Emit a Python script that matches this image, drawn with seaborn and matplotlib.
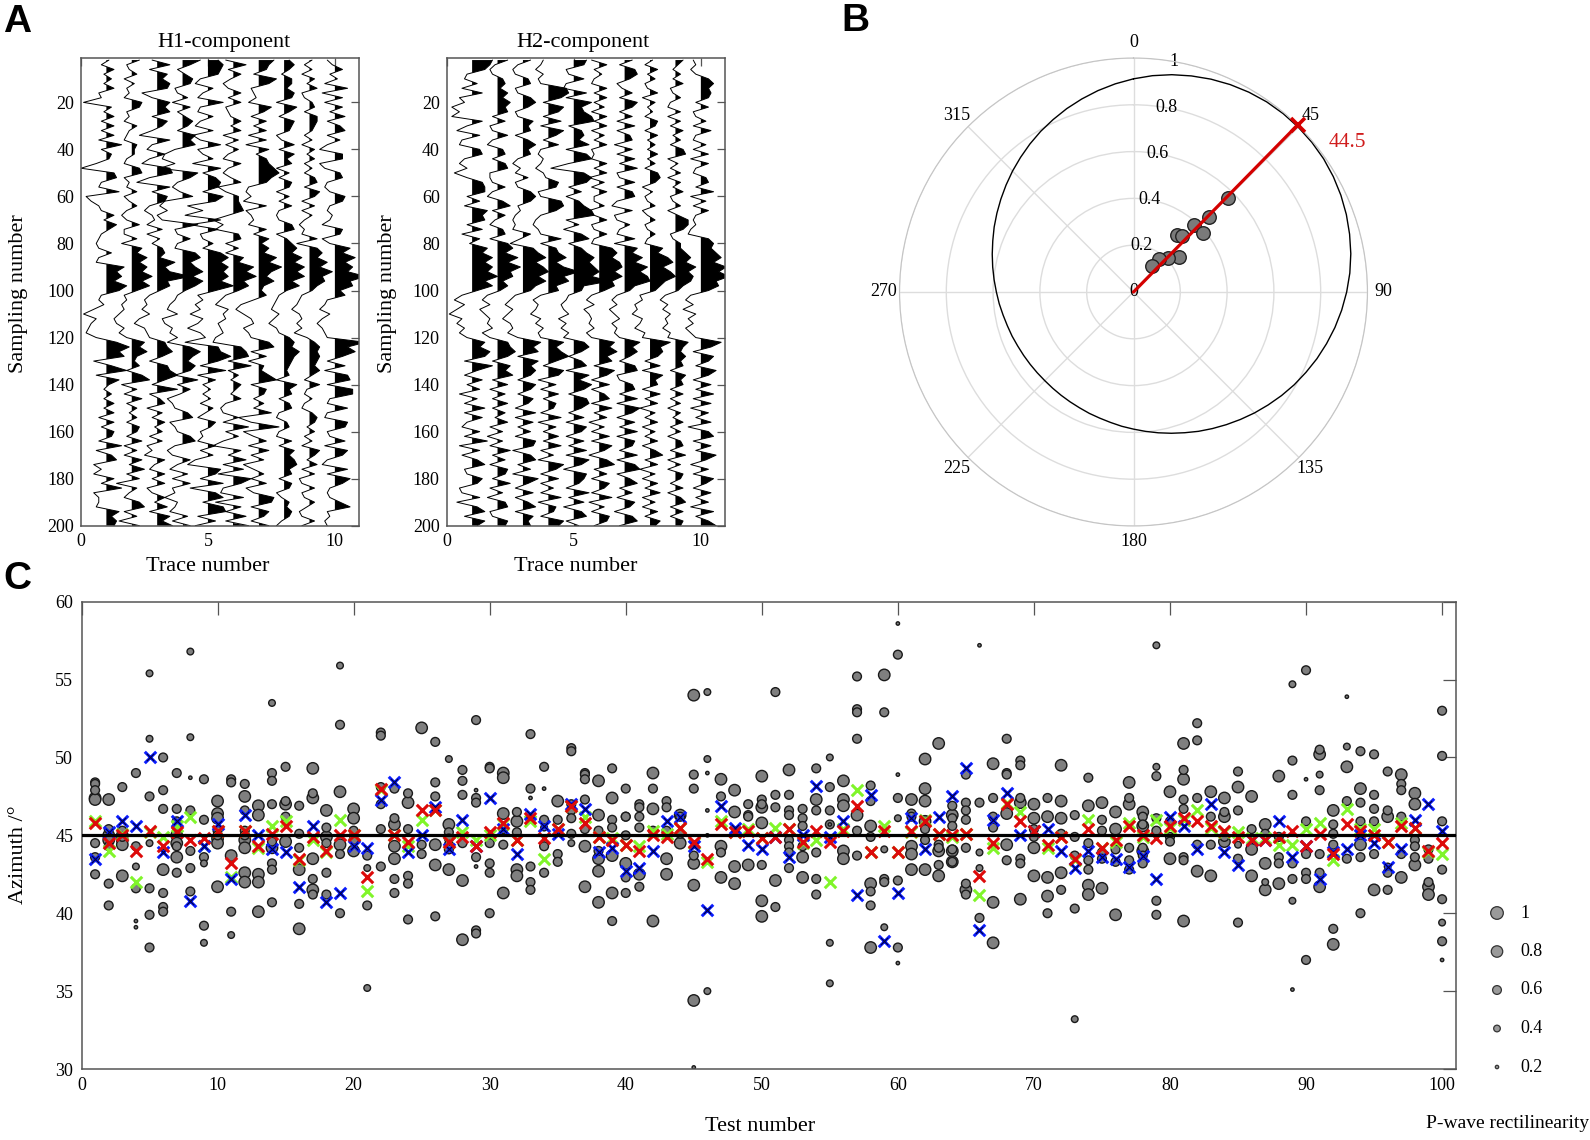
import numpy as np
import pandas as pd
import matplotlib
matplotlib.use("Agg")
import matplotlib.pyplot as plt
import seaborn as sns

# traces: amplitude in tenths of a trace spacing, read every 2nd sample (2..200)
samples = list(range(2, 201, 2))

h1_1 = [1,-2,3,-1,2,-1,3,-3,-2,-9, 2,-1,3,-2,3,-2,3,-3,6,-2,
        2,1,-4,-10,3,4,-2,-3,5,-8, -6,-3,-2,3,-1,4,1,-2,-3,-4,
        -3,2,-3,-4,7,4,6,3,8,5, -2,-3,-1,-5,-9,-4,-6,-7,-8,-4,
        4,9,5,7,-5,2,8,-4,5,1, -1,2,-1,3,-1,3,-3,3,-2,3,
        2,-3,6,-4,2,4,-5,-2,-5,3, -2,6,-5,-3,-3,-4,5,2,4,3]
h1_2 = [3,-2,-1,2,-3,1,-2,-1,-3,4, 3,-2,-1,-3,2,-1,-2,-3,2,1,
        1,-2,-3,3,4,-3,-1,-2,2,-3, -1,2,-2,-4,-2,3,-3,-3,2,-4,
        4,2,6,3,6,4,8,4,7,2, -3,-2,-4,-3,-5,-7,-6,-3,-5,-2,
        5,3,6,2,1,3,-2,4,7,-4, 2,-3,4,-2,2,-1,2,-2,3,2,
        -2,4,-3,2,-3,4,-1,5,-2,3, -6,2,-1,-3,3,5,-3,2,-5,3]
h1_3 = [-2,5,-3,4,2,5,4,-6,-2,5, 3,5,-2,4,2,-2,-7,5,-2,-4,
        3,-3,-6,5,6,-3,-8,5,-2,4, 3,-3,-5,-2,-1,-4,2,-4,1,-2,
        2,3,1,7,3,5,13,4,5,1, -3,-5,-4,-6,-3,-7,-9,-5,-4,-3,
        3,4,6,2,-3,4,5,8,3,-2, 8,-3,1,3,-4,2,-2,3,-1,2,
        -3,2,-4,-2,-5,3,-1,-3,3,-2, 3,-4,-2,3,-1,4,-3,5,2,6]
h1_4 = [7,3,-2,1,4,3,-3,-2,2,-4, 3,-2,1,4,2,-2,5,3,5,-3,
        -7,-8,-3,-9,6,3,-2,-4,-1,4, -7,-9,-6,-10,-8,6,-3,-2,3,-2,
        -3,5,7,3,5,8,4,8,5,1, -2,-3,-5,-6,-2,-8,-7,-4,-5,-2,
        -6,3,7,4,2,5,3,-3,6,-2, 3,-1,-6,-4,-3,2,4,-5,-3,-2,
        3,5,-3,-6,-4,3,-2,-5,2,-4, 3,-4,-3,-7,-2,-3,-5,2,-4,3]
h1_5 = [4,6,5,4,-3,-5,2,-2,-4,6, -3,-4,2,-3,-5,2,-6,-3,5,-4,
        -2,2,-6,5,-2,3,5,4,-2,6, 3,-8,-2,-9,5,-7,4,-3,-2,2,
        -2,5,8,5,8,6,8,5,10,3, -4,-2,-5,-3,-7,-2,-4,-8,-3,-1,
        -9,4,5,9,4,-3,7,-4,3,-2, 1,-2,1,-3,2,-1,-4,3,1,-3,
        -2,-4,3,-3,2,-5,-8,5,3,-3, 6,-7,3,6,-2,6,7,-4,3,-5]
h1_6 = [-3,5,-2,3,-1,-4,-2,3,-2,3, -3,-2,-1,3,-1,3,-4,2,-3,2,
        -2,-4,3,-2,-4,-1,3,-6,-3,2, 2,3,4,-2,-8,-4,-7,2,3,-3,
        2,-3,4,2,8,5,9,4,6,2, -3,-5,-7,-2,-4,-3,-6,-5,-4,-7,
        -8,3,5,6,-2,7,-2,2,-1,3, 1,-1,3,-3,-5,-4,2,-4,6,-3,
        2,-4,-8,3,-2,5,-4,4,-6,7, 3,-4,-5,4,-7,3,-3,5,-3,6]
h1_7 = [6,4,3,-2,7,4,-3,-2,-1,-4, 5,2,-3,3,-2,3,-4,3,-5,4,
        -1,3,4,6,8,5,3,-4,-5,-3, -6,3,-5,-3,-2,-4,3,-2,4,1,
        4,2,7,4,9,5,3,6,2,1, 3,-2,-7,-9,-6,-3,-2,-6,-4,-3,
        4,6,-3,3,-4,2,1,4,7,-3, 3,2,-2,2,-2,5,-8,-3,8,-6,
        -2,3,-4,4,-3,2,-6,-2,2,-3, 3,-5,-2,6,5,-3,4,2,-3,4]
h1_8 = [2,4,2,-1,3,3,1,4,3,-3, 5,2,-2,4,3,2,-3,-1,4,-2,
        4,1,3,-3,2,-2,3,2,-3,2, -2,3,-2,-3,-2,3,4,-3,1,3,
        5,3,7,4,8,5,8,3,6,1, -2,-3,-4,-5,-2,-4,-6,-3,-2,2,
        4,3,6,4,3,2,1,2,-3,5, 2,3,-2,2,3,-2,-3,1,2,-2,
        -3,3,-2,4,2,4,5,2,3,-2, 3,2,-3,-1,2,1,3,2,-1,-3]
h1_9 = [1,-2,1,-3,2,-1,3,-3,-2,1, 2,-2,3,3,2,1,-2,1,-3,2,
        -1,2,-2,1,-2,2,3,-2,4,2, -3,2,-3,1,-2,-4,-2,-3,3,-5,
        3,5,3,7,4,9,5,6,3,1, -3,-4,-5,-7,-4,-3,-5,-3,-6,-1,
        2,4,3,4,3,2,4,1,-2,4, -1,-2,1,-2,-3,1,3,2,-1,2,
        -2,1,-3,4,2,-1,3,-3,2,-4, -3,2,-3,-2,2,-1,-4,-3,2,-3]
h1_10 = [-3,-1,3,-2,1,-4,5,-5,3,-4, 3,-2,4,-3,2,4,-3,2,-3,-6,
         3,3,-6,-4,2,3,-3,-4,-2,4, 3,-2,-3,-1,-2,-5,3,2,-5,-2,
         6,3,8,4,7,5,12,6,7,2, 4,-3,-4,-6,-2,-5,-7,-5,-4,-3,
         12,5,8,3,-3,4,-4,5,6,-3, 7,7,-2,-3,5,-3,-4,5,4,-3,
         -2,4,-4,5,3,-3,-5,5,-3,6, 3,-2,-3,-2,2,6,-3,-2,-4,-3]

h2_1 = [8,7,5,-2,-3,2,-4,4,-5,-3, -8,-5,-8,4,-2,-6,3,-4,-5,3,
        4,-3,-5,-2,-7,-2,4,5,5,-2, 3,-3,6,4,5,-2,4,-4,3,-1,
        6,4,8,5,8,6,10,5,8,2, -4,-7,-3,-6,-9,-4,-6,-3,-5,-2,
        5,3,7,5,-3,8,2,-3,4,-2, 3,-5,2,-3,5,-3,4,-2,-4,3,
        -3,6,-5,3,-4,2,5,-3,-2,4, 2,-5,-4,3,-6,2,5,-3,5,2]
h2_2 = [4,-1,-3,-2,2,3,1,4,2,5, 3,4,-2,3,-3,-2,4,-2,-4,2,
        3,-2,3,4,-3,-3,-2,3,-2,-4, 2,5,-2,3,-1,-3,2,3,-3,4,
        6,3,8,4,9,5,6,2,4,1, -4,-6,-3,-7,-5,-3,-4,-2,-6,-3,
        4,5,7,4,-2,5,3,6,-2,4, -3,3,-2,4,-2,3,-1,4,-3,2,
        -4,2,-3,5,-2,3,-3,4,3,-2, 5,-3,2,-4,3,4,-3,-2,4,3]
h2_3 = [3,-2,-4,-3,2,3,-3,-2,3,5, 2,-3,-2,4,2,3,-3,2,5,2,
        3,-2,-4,-1,-3,2,-3,-2,3,5, 3,-2,-1,-3,-4,-3,-4,3,-1,-5,
        4,6,9,5,8,10,6,9,5,3, -3,-5,-7,-4,-6,-8,-5,-4,-6,-2,
        7,4,6,-2,6,3,5,3,-2,5, 3,-2,4,2,-3,5,-3,4,-2,3,
        -3,5,4,-4,3,5,-2,3,-4,6, 2,-3,4,-3,2,5,-3,4,2,3]
h2_4 = [-2,-3,-5,-2,-4,-3,7,8,5,-2, 6,4,-2,5,-3,6,3,-2,4,-3,
        -4,-2,-3,-5,-2,-1,4,3,-4,-3, 5,6,3,-3,-5,-6,-4,-3,5,-3,
        3,4,7,3,6,12,6,8,3,4, -3,-6,-4,-5,-7,-3,-5,-2,-4,-3,
        6,3,5,8,3,-2,6,4,-4,3, -3,4,-2,3,2,-3,5,-4,3,-2,
        4,-2,5,-3,2,-4,6,3,-3,4, -3,2,-3,5,-4,3,2,-3,6,4]
h2_5 = [5,4,-3,-2,4,-3,-4,5,-3,7, 3,4,7,8,-2,3,4,2,6,-3,
        5,7,-2,-9,4,7,5,-2,3,-3, 2,4,7,8,-3,2,-4,3,6,-2,
        3,5,8,6,8,10,7,14,4,3, -2,-3,-5,-4,-2,-6,-3,-5,-2,-4,
        4,6,3,-2,3,5,-3,6,2,7, 4,-2,5,6,3,-2,4,-3,5,3,
        -3,4,-2,5,-3,6,3,-4,5,4, 2,-3,6,-2,4,-4,3,5,-3,2]
h2_6 = [-3,3,-2,1,-2,-3,3,-2,3,-2, 2,-3,3,-2,3,-3,2,-2,3,-3,
        -2,-3,3,-2,3,-4,2,-3,3,-2, -2,2,-4,-2,3,-3,-2,3,-2,-3,
        5,7,5,8,9,6,9,5,6,2, -3,-5,-2,-6,-4,-3,-4,-2,-5,-3,
        6,4,7,3,5,-2,6,3,-3,4, -3,2,4,-3,5,-2,3,-4,2,-3,
        4,-3,5,2,-4,3,6,-2,3,-3, 4,2,-3,5,-4,2,-3,4,3,-2]
h2_7 = [3,-2,4,5,2,-3,-1,3,-2,5, 3,-2,3,-3,4,-3,2,3,-4,3,
        -3,4,-2,5,-3,-2,4,-3,3,4, -3,-5,3,-4,-3,2,-2,-3,4,-4,
        5,3,7,4,9,6,9,10,4,2, -3,-5,-3,-6,-4,-2,-5,-3,-4,-2,
        6,3,5,2,-2,4,5,-3,-2,3, 4,-2,5,-3,6,3,-3,4,-2,5,
        -3,4,3,-2,5,-3,4,6,-3,2, 5,-2,3,-3,4,2,-4,3,5,-2]
h2_8 = [1,-2,3,-1,2,-2,-1,3,-3,2, -1,1,-2,3,2,-2,3,-1,2,-1,
        3,-1,2,-2,3,4,2,-3,1,-2, -1,2,-3,-1,2,-2,-1,2,-1,-2,
        5,3,7,9,5,8,10,6,4,2, -4,-3,-6,-5,-7,-3,-4,-6,-2,-3,
        8,4,5,3,-2,4,-3,5,2,3, -3,4,-2,3,-4,2,-2,3,-3,2,
        -2,3,-3,2,5,-2,3,-4,2,-3, 3,-2,4,-3,2,-3,3,-2,4,2]
h2_9 = [3,1,-1,2,-1,3,-2,-1,2,-2, -3,2,-3,2,-2,3,-1,2,-2,3,
        4,-3,1,-2,2,-3,2,-1,3,-2, -1,2,-3,1,5,5,3,-2,-1,2,
        2,4,6,4,8,5,7,6,3,1, -4,-6,-3,-5,-2,-4,-3,-5,-2,-3,
        5,3,2,4,2,3,-2,4,2,3, -2,3,-2,2,-3,2,-1,3,-2,2,
        -3,2,3,-2,4,-3,2,-3,3,2, -2,3,-3,2,4,-2,3,-2,3,2]
h2_10 = [-3,-2,-4,-2,3,5,3,4,3,-2, 3,-3,-2,2,-3,4,-2,-3,2,-3,
         3,-4,3,-2,-3,2,3,-2,5,-4, 2,-3,3,-2,-3,-2,-4,-5,3,5,
         4,6,8,5,10,7,11,6,7,3, -4,-6,-3,-7,-2,-5,-3,-6,-4,-2,
         8,4,-3,5,3,-2,6,3,-3,4, -2,5,-3,4,-4,3,-2,4,-5,3,
         5,-3,4,-2,6,2,-4,3,-3,5, 2,-3,4,-2,3,-4,5,-2,3,6]

h1_traces = [h1_1, h1_2, h1_3, h1_4, h1_5, h1_6, h1_7, h1_8, h1_9, h1_10]
h2_traces = [h2_1, h2_2, h2_3, h2_4, h2_5, h2_6, h2_7, h2_8, h2_9, h2_10]

# polar panel
curve_theta = list(range(0, 361, 5))
curve_r = [.911,.928,.943,.956,.968,.978,.986,.992,.995,.996,.995,.992,.986,.978,.968,.956,.943,.928,.911,
           .893,.874,.854,.834,.813,.793,.772,.751,.731,.711,.692,.674,.657,.640,.625,.611,.598,.586,
           .576,.566,.558,.552,.546,.542,.539,.537,.536,.537,.539,.542,.546,.552,.558,.566,.576,.586,
           .598,.611,.625,.640,.657,.674,.692,.711,.731,.751,.772,.793,.813,.834,.854,.874,.893,.911]
polar_theta = [45.1, 45.2, 42.3, 49.6, 37.4, 40.6, 52.8, 45.2, 38.2, 35.9]
polar_r = [.568, .457, .387, .392, .306, .316, .246, .206, .178, .135]
best_theta = 44.5

# panel C: dots per test number, grouped by rectilinearity class
dots_08 = {1:[47.4,47.3],2:[47.3,45.0,44.7],3:[45.0,44.7,44.4,42.4],6:[42.8],7:[45.0,44.5,43.6],
    10:[47.2,46.4,46.1,44.8,44.5,41.7],11:[43.7],12:[47.5,44.7,44.2,42.6,42.0],13:[46.9,46.3,42.5,42.0,40.1],
    14:[44.2],15:[47.0,44.6],16:[42.8,39.0],17:[49.3,47.4,43.5,41.5],18:[46.6,44.9],19:[47.8,44.4],
    20:[46.7,46.1,44.0],23:[45.7,44.3,43.5],24:[47.1],25:[51.9],26:[44.4,43.1],27:[45.7,42.8],28:[42.1,38.3],
    31:[49.0,48.7,46.4,41.3],32:[45.9,42.8,42.4],35:[47.2],37:[44.3,41.7],38:[48.5,46.3,43.5,42.7,40.7],
    39:[47.4,43.7,41.3],40:[43.2],41:[42.5],42:[49.0,46.7,39.5],43:[43.5,42.5],44:[46.3,44.5],
    45:[54.0,43.2,41.8,34.4],47:[48.6,44.3,42.3],48:[47.9,46.5,43.0,41.9],49:[43.1],50:[48.8,46.8,45.8,40.8,39.8],
    51:[42.1],52:[49.2],53:[43.6,42.3],54:[47.3],56:[48.5,47.3,46.9,44.0,43.5],57:[46.3],58:[45.6,41.9,37.8],
    59:[55.3],61:[47.3,44.3,43.8,42.8],62:[49.9,48.0,47.2,45.9,42.8],63:[50.9,44.0,42.4],64:[46.3,44.0,43.3],
    65:[41.5],67:[49.6,40.7,38.1],68:[46.4,44.4],69:[47.1,40.9],70:[47.0,46.1,44.2,42.4],71:[46.2,42.3,41.1],
    72:[49.5,47.2,46.1,42.6],74:[46.9,41.8,41.2],75:[47.1,41.6],76:[46.5,45.4,39.9],77:[48.4,47.0],
    78:[46.5,45.6,44.0],80:[47.8,43.5],81:[50.9,48.6,39.5],82:[42.7],83:[47.8,42.4],84:[47.4,46.2,44.6],
    85:[48.1],86:[47.5,44.1,42.4],87:[45.7,43.2,41.5],88:[48.8,41.9],91:[50.2,41.7],92:[46.6,38.0],
    93:[49.4],94:[48.0,44.4],95:[41.5],96:[46.2],97:[48.9,42.3],98:[47.7,47.0,43.1],99:[41.7,41.2]}
dots_06 = {1:[48.4,48.3,47.9,44.5,43.6,42.5],2:[45.4,44.3,41.9,40.5],3:[48.1,45.3,44.9],4:[49.0,44.3,41.6],
    5:[47.5,41.6,39.9,37.8],6:[50.0,47.9,46.7,41.3,40.4,40.1],7:[49.0,46.7,45.9,45.5,44.3,42.6],
    8:[46.6,44.0,42.9,41.4],9:[48.6,46.0,43.6,39.2],10:[45.3,45.0],11:[48.6,48.4,40.1],12:[48.3,46.6,45.3,45.0],
    14:[49.0,48.5,47.0,44.6,43.2,42.8,40.7],15:[49.4,47.2,46.2],16:[46.9,45.1,44.2,40.6],17:[47.7,42.2,41.2],
    18:[45.5,44.5,42.6,41.2],19:[52.1,43.8,40.0],20:[45.3,44.7],21:[43.7,40.5],22:[51.6,51.4,48.1,47.0,45.4,43.0],
    23:[48.0,46.1,42.2,41.3],24:[47.7,45.4,42.4,41.9,39.6],25:[44.4,43.8],26:[51.0,48.4,47.5,39.8],
    27:[45.2,44.8,44.4,44.1],28:[49.2,48.5,47.6,44.5],29:[52.4,47.4,47.1,43.6,38.9,38.7],
    30:[49.4,49.3,44.5,43.2,42.6,40.0],31:[45.4,44.4],32:[46.5,45.2],33:[51.5,48.0,43.0,42.0,41.5],
    34:[49.4,46.0,44.3,42.6],35:[46.0,43.8,43.3],36:[50.6,50.4,47.0,46.6,46.1,45.1],37:[49.0,48.9,48.6,47.3,45.4],
    38:[45.3,44.0],39:[49.3,46.0,45.5,39.5],40:[48.0,46.2,46.2,45.0,42.3,41.3],41:[47.0,46.8,46.2,45.5,41.7],
    42:[48.0,45.3],43:[47.2,46.8,45.3],44:[46.2,45.1],45:[48.9,48.0,43.7],47:[47.5,43.9],49:[47.0,46.3,46.2],
    50:[47.3,47.0,43.1],51:[54.2,47.6,46.8,40.4],52:[47.6,46.6,46.3,44.7,44.3,43.9,42.9],53:[46.7,46.1,45.6,44.3],
    54:[49.3,46.6,43.9,42.2,41.2],55:[48.1,46.6,45.7],57:[55.2,53.1,52.9,51.2,45.3,43.7],
    58:[48.2,47.2,44.9,41.4,40.5],59:[52.9,42.2,42.0],60:[56.6,47.4,42.1,37.8],61:[46.4,46.2],62:[45.4,44.7],
    63:[44.4,44.2,43.1],64:[46.9,46.1,45.6,44.1,43.3],65:[48.9,47.1,46.6,46.0,44.2,41.9,41.2],66:[47.1,39.7],
    67:[47.4,46.2,45.5],68:[51.2,49.0,48.9,43.4],69:[49.8,49.5,47.4,43.5,43.2],70:[45.4,44.9],71:[47.4,40.0],
    72:[45.1,41.5],73:[46.3,44.9,43.7,40.3],74:[48.7,44.5,43.4,42.8],75:[46.0,45.3,43.9,43.5],76:[44.1,43.3],
    77:[47.4,44.2,43.4,42.8],78:[46.2,45.7,44.2,43.7,43.2],79:[48.8,46.1,45.3,40.8,39.9],80:[45.9,44.9,44.6],
    81:[49.2,47.3,46.7,43.6,43.4],82:[52.2,51.1,47.4,44.4],83:[46.2,44.4],84:[46.5,44.9],85:[49.1,46.6,43.5,39.4],
    86:[45.4],87:[45.1],88:[44.9,43.6,43.2],89:[49.8,47.6,43.2,42.2],90:[55.6,45.9,43.8,42.6,42.2,37.0],
    91:[50.5,47.9,43.8,42.6],92:[45.7,45.1,44.4,39.0],93:[47.2,43.5],94:[50.4,47.1,45.9,43.6,40.0],
    95:[50.2,47.6,46.7,45.9,43.8],96:[49.1,46.6,42.6,41.5],97:[48.3,47.9,46.2,43.8],98:[44.7,44.3,43.6],
    99:[44.1,43.5,42.0],100:[53.0,50.1,45.9,42.8,40.9,38.2]}
dots_04 = {4:[43.0],5:[55.4,51.2,44.5],8:[56.8,51.3],9:[43.2,38.1],11:[38.6],14:[53.5],19:[55.9],21:[42.9,35.2],
    27:[49.9],34:[45.5],36:[44.5],46:[54.2,49.9,35.0],55:[50.0,38.1,35.5],59:[44.1,39.1],60:[46.1],66:[43.9,42.9],
    73:[33.2],79:[57.2,49.4],85:[44.4],87:[42.0],89:[54.7,40.8],91:[48.9],93:[50.7],96:[43.0],100:[39.4]}
dots_02 = {4:[39.5,39.1],6:[44.0],8:[48.7],29:[47.9,43.0],33:[47.4],34:[48.0],45:[30.1],46:[49.0,46.6,45.0],
    55:[45.7],60:[58.6,48.9,36.8],66:[57.2],89:[35.1],90:[48.6],93:[53.9],100:[37.0]}

# crosses, one value per test number 1..100
test_number = list(range(1, 101))
red_az = [45.8,44.5,45.0,44.0,45.3,44.3,45.2,44.7,44.8,45.3, 43.2,45.3,44.3,45.1,45.6,43.5,44.9,44.0,45.0,45.0,
          42.3,48.0,45.0,44.6,46.6,46.6,44.6,44.9,44.3,45.2, 45.8,44.7,46.1,44.8,45.4,46.9,45.8,44.9,44.7,44.4,
          44.0,45.0,44.9,45.5,44.6,43.5,45.7,45.2,45.3,44.8, 44.9,45.4,44.6,45.3,44.6,45.3,46.9,43.9,45.3,43.9,
          45.3,45.9,45.1,45.0,45.1,42.4,44.5,47.0,45.9,45.3, 44.4,44.9,43.5,45.4,44.2,44.7,45.6,45.0,44.8,45.6,
          46.1,45.9,45.6,45.3,44.9,44.7,44.7,44.9,45.3,44.3, 45.1,43.8,45.7,45.3,45.0,44.6,45.6,45.5,44.0,44.5]
green_az = [45.9,44.0,45.1,42.0,45.2,44.9,45.6,46.2,44.3,45.3, 42.3,45.3,44.2,45.6,45.9,43.4,44.7,43.9,46.0,45.0,
            41.4,47.9,45.0,44.3,46.0,46.6,44.6,45.2,44.7,45.0, 45.7,44.7,45.9,43.5,45.4,46.9,46.2,44.9,44.8,44.4,
            44.3,45.3,45.1,45.5,44.5,43.3,45.9,45.2,45.4,44.8, 45.5,45.4,44.5,44.7,42.0,45.4,47.9,43.9,45.6,43.9,
            45.2,46.0,45.1,44.9,45.1,41.2,44.2,47.1,46.5,45.3, 44.2,44.9,43.4,46.0,44.2,44.6,45.8,44.9,46.0,45.5,
            46.0,46.6,45.5,45.2,45.2,44.8,44.8,44.4,44.4,45.4, 45.8,43.4,46.7,45.4,45.4,44.6,45.8,45.5,43.9,43.8]
blue_az = [43.5,45.2,45.9,45.6,50.0,43.9,45.9,40.8,44.3,45.7, 42.2,46.3,45.0,44.1,43.9,41.7,45.6,40.7,41.3,44.3,
           44.2,47.3,48.4,43.9,45.0,46.8,44.1,46.0,44.3,47.4, 45.4,43.8,46.4,45.6,45.1,47.0,46.7,43.9,44.2,42.7,
           42.9,44.0,45.9,46.2,44.3,40.2,46.9,45.5,44.4,44.1, 44.9,43.6,45.0,48.2,44.9,45.9,41.2,47.6,38.2,41.3,
           46.1,44.1,46.2,47.5,49.3,38.9,46.0,47.7,45.0,45.3, 45.4,44.0,42.9,44.0,43.6,43.5,43.0,43.7,42.2,46.2,
           45.6,44.1,47.0,43.9,43.1,44.7,44.7,45.9,43.6,44.3, 42.2,43.9,44.1,45.0,44.5,43.0,44.1,46.0,47.0,45.3]
mean_az = 45

legend_vals = [1, 0.8, 0.6, 0.4, 0.2]
rect_sizes = {1: 83, 0.8: 68, 0.6: 40, 0.4: 23, 0.2: 6}

W, H = 1590, 1140
SERIF = ["Liberation Serif", "DejaVu Serif"]


def px_axes(left, top, right, bottom, **kw):
    return fig.add_axes([left / W, 1 - bottom / H, (right - left) / W, (bottom - top) / H], **kw)


def draw_traces(ax, traces, title, ylab_x, title_x, xlab_x):
    for k, amp in enumerate(traces, start=1):
        x = k + np.array(amp) / 10
        ax.fill_betweenx(samples, k, x, where=x > k, interpolate=True, color="black", lw=0)
        sns.lineplot(x=x, y=samples, ax=ax, orient="y", sort=False, estimator=None, color="black", lw=0.7)
    ax.set_xlim(0, 10.95)
    ax.set_ylim(200, 1)
    ax.set_xticks([0, 5, 10])
    ax.set_yticks(range(20, 201, 20))
    ax.tick_params(direction="in", length=6, width=0.9, top=True, right=True, labelsize=13, pad=5, color="#555555")
    for s in ax.spines.values():
        s.set_color("#555555")
        s.set_linewidth(1.1)
    ax.set_xlabel("Trace number", fontsize=16)
    ax.set_ylabel("Sampling number", fontsize=16)
    ax.xaxis.set_label_coords(xlab_x / W, 1 - 557 / H, transform=fig.transFigure)
    ax.yaxis.set_label_coords(ylab_x / W, 1 - 294 / H, transform=fig.transFigure)
    ax.text(title_x / W, 1 - 42 / H, title, fontsize=16, ha="center", va="center", transform=fig.transFigure)


sns.set_style("white")
plt.rcParams["font.family"] = SERIF
plt.rcParams.update({"text.color": "black", "axes.labelcolor": "black", "xtick.labelcolor": "black",
                     "ytick.labelcolor": "black"})
fig = plt.figure(figsize=(W / 100, H / 100), dpi=100)

# A
ax_h1 = px_axes(81, 57.7, 359, 525.7)
ax_h2 = px_axes(446.7, 57.7, 725, 525.7)
draw_traces(ax_h1, h1_traces, "H1-component", 28, 224, 208)
draw_traces(ax_h2, h2_traces, "H2-component", 397, 583, 576)

# B
ax_p = px_axes(899.5, 58, 1367.5, 526, projection="polar")
ax_p.set_theta_zero_location("N")
ax_p.set_theta_direction(-1)
sns.lineplot(x=np.deg2rad(curve_theta), y=curve_r, ax=ax_p, sort=False, estimator=None, color="black", lw=1)
sns.scatterplot(x=np.deg2rad(polar_theta), y=polar_r, ax=ax_p, s=95, color="#7a7a7a", edgecolor="#222222",
                linewidth=1, zorder=3, clip_on=False)
ax_p.plot(np.deg2rad([best_theta, best_theta]), [0, 1], color="#d40000", lw=2.3, zorder=4)
ax_p.plot(np.deg2rad([best_theta]), [1], marker="x", ms=10, mew=2.6, color="#d40000", zorder=5, clip_on=False)
ax_p.set_ylim(0, 1)
ax_p.set_thetagrids(range(0, 360, 45), labels=[str(a) for a in range(0, 360, 45)], fontsize=13)
ax_p.set_rgrids([0, 0.2, 0.4, 0.6, 0.8, 1], labels=["0", "0.2", "0.4", "0.6", "0.8", "1"], angle=10,
                fontsize=13, ha="center", va="center")
ax_p.tick_params(axis="x", pad=1)
ax_p.grid(True, color="#dddddd", lw=1)
ax_p.spines["polar"].set_color("#c4c4c4")
ax_p.text(np.deg2rad(55), 1.115, "44.5", color="#d01c1c", fontsize=15.5, ha="center", va="center")

# C
ax_c = px_axes(81.5, 601.7, 1455.7, 1069)
rows = []
for rect, dots in [(0.8, dots_08), (0.6, dots_06), (0.4, dots_04), (0.2, dots_02)]:
    for test, vals in dots.items():
        rows += [(test, v, rect) for v in vals]
df_dots = pd.DataFrame(rows, columns=["test", "azimuth", "rect"]).sort_values("rect", ascending=False)
sns.scatterplot(data=df_dots, x="test", y="azimuth", size="rect", sizes=rect_sizes, ax=ax_c, color="#7f7f7f",
                edgecolor="#1a1a1a", linewidth=1, legend=False, zorder=2)
for az, col, z in [(green_az, "#80f52a", 3), (blue_az, "#0a1cff", 4), (red_az, "#dd0a0a", 6)]:
    sns.scatterplot(x=test_number, y=az, ax=ax_c, marker="x", s=68, color=col, linewidth=2.2, zorder=z)
sns.scatterplot(x=test_number, y=blue_az, ax=ax_c, marker="x", s=28, color="#000040", linewidth=0.8, zorder=5)
ax_c.axhline(mean_az, color="black", lw=2.3, zorder=7)
ax_c.set_xlim(0, 101)
ax_c.set_ylim(30, 60)
ax_c.set_xticks(range(0, 101, 10))
ax_c.set_yticks(range(30, 61, 5))
ax_c.tick_params(direction="in", length=9.5, width=0.9, top=True, right=True, labelsize=13, pad=6, color="#555555")
for s in ax_c.spines.values():
    s.set_color("#555555")
    s.set_linewidth(1.1)
ax_c.set_xlabel("Test number", fontsize=16)
ax_c.set_ylabel("Azimuth /°", fontsize=16)
ax_c.xaxis.set_label_coords(760 / W, 1 - 1117 / H, transform=fig.transFigure)
ax_c.yaxis.set_label_coords(28 / W, 1 - 855 / H, transform=fig.transFigure)

# size legend of panel C
ax_l = px_axes(1480, 893.75, 1590, 1086.25)
sns.scatterplot(x=[17] * 5, y=legend_vals, size=legend_vals, sizes=rect_sizes, ax=ax_l, color="#9a9a9a",
                edgecolor="#333333", linewidth=0.9, legend=False)
ax_l.set_xlim(0, 110)
ax_l.set_ylim(0.1, 1.1)
ax_l.axis("off")
for v in legend_vals:
    ax_l.text(40, v, "{:g}".format(v), fontsize=13, va="center")
fig.text(1426 / W, 1 - 1123 / H, "P-wave rectilinearity", fontsize=14, va="center")

# panel letters
for letter, x, y in [("A", 3, 32), ("B", 841, 31), ("C", 3, 589)]:
    fig.text(x / W, 1 - y / H, letter, fontsize=28, fontweight="bold", family="Liberation Sans", va="baseline")

plt.savefig("out.png", dpi=100)
